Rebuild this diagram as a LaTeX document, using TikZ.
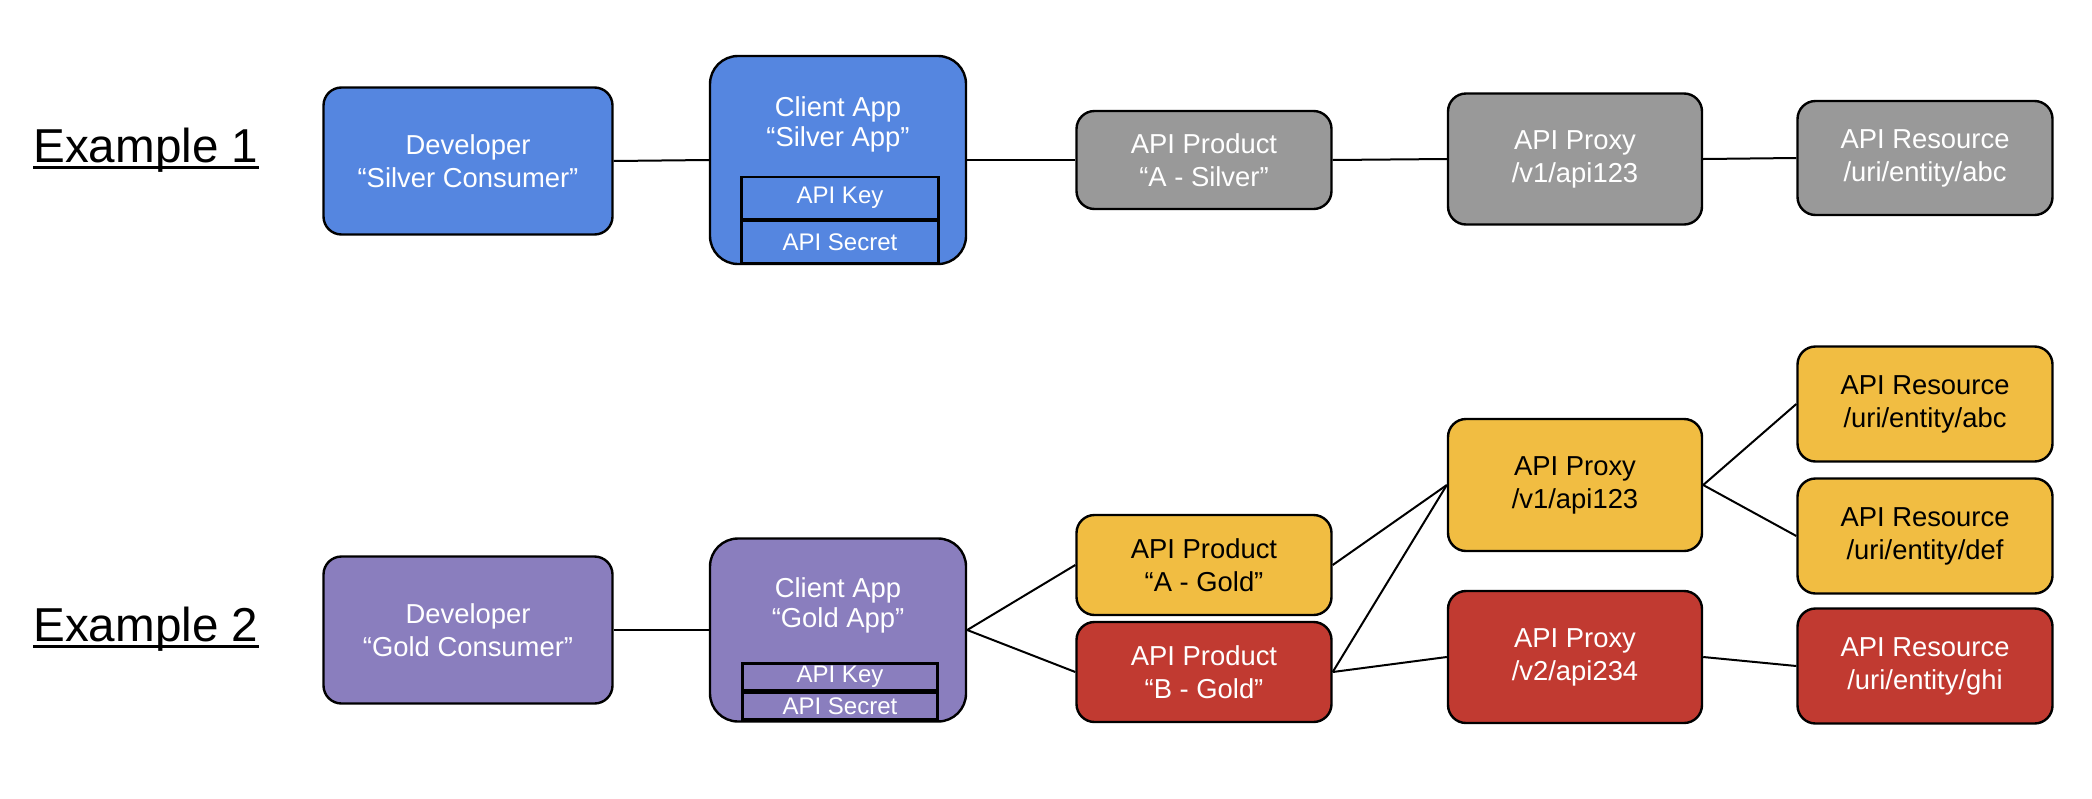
\documentclass[tikz,border=0pt]{standalone}
\usepackage{fontspec}
\setmainfont{Liberation Sans}
\definecolor{appblue}{HTML}{5586E0}
\definecolor{appgray}{HTML}{999999}
\definecolor{appgold}{HTML}{F1BD42}
\definecolor{appred}{HTML}{C13A31}
\definecolor{apppurple}{HTML}{8A7EBE}
\begin{document}
\begin{tikzpicture}[x=0.5pt,y=-0.5pt]
\tikzstyle{every node}+=[inner sep=0pt]
\tikzstyle{box}=[draw=black, line width=1.2pt, rounded corners=9pt, align=center, font=\fontsize{13.7}{16.5}\selectfont]
\tikzstyle{appbox}=[box, rounded corners=14pt]
\tikzstyle{keybox}=[draw=black, line width=1.1pt, text=white, font=\fontsize{12}{14}\selectfont]
\tikzstyle{title}=[anchor=base west, font=\fontsize{23.8}{28}\selectfont]
\tikzstyle{wire}=[black, line width=1pt]
\useasboundingbox (0,0) rectangle (2092,798);
% example 1
\node[title] (exone) at (33,162) {Example 1};
\draw[line width=1.3pt] ([yshift=-2.6pt]exone.base west) -- ([yshift=-2.6pt]exone.base east);
\node[box, fill=appblue, text=white, minimum width=144.5pt, minimum height=73.5pt] (silverdev) at (468,161) {Developer\\“Silver Consumer”};
\node[appbox, fill=appblue, minimum width=128pt, minimum height=104pt] (silverapp) at (838,160) {};
\node[align=center, text=white, font=\fontsize{13.7}{15}\selectfont] (silverapptitle) at (838,124) {Client App\\“Silver App”};
\node[keybox, fill=appblue, minimum width=98.5pt, minimum height=21pt] (silverkey) at (840,198) {API Key};
\node[keybox, fill=appblue, minimum width=98.5pt, minimum height=21pt] (silversecret) at (840,242) {API Secret};
\node[box, fill=appgray, text=white, minimum width=127.5pt, minimum height=49pt] (silverprod) at (1204,160) {API Product\\“A - Silver”};
\node[box, fill=appgray, text=white, minimum width=127pt, minimum height=65.5pt] (silverproxy) at (1575,159) {API Proxy\\/v1/api123};
\node[box, fill=appgray, text=white, minimum width=127.5pt, minimum height=57pt] (silverres) at (1925,158) {API Resource\\/uri/entity/abc};
\draw[wire] (silverdev.east) -- (silverapp.west);
\draw[wire] (silverapp.east) -- (silverprod.west);
\draw[wire] (silverprod.east) -- (silverproxy.west);
\draw[wire] (silverproxy.east) -- (silverres.west);
% example 2
\node[title] (extwo) at (33,641) {Example 2};
\draw[line width=1.3pt] ([yshift=-2.6pt]extwo.base west) -- ([yshift=-2.6pt]extwo.base east);
\node[box, fill=apppurple, text=white, minimum width=144.5pt, minimum height=73.5pt] (golddev) at (468,630) {Developer\\“Gold Consumer”};
\node[appbox, fill=apppurple, minimum width=128pt, minimum height=91.5pt] (goldapp) at (838,630) {};
\node[align=center, text=white, font=\fontsize{13.7}{15}\selectfont] (goldapptitle) at (838,605) {Client App\\“Gold App”};
\node[keybox, fill=apppurple, minimum width=97.5pt, minimum height=13.5pt] (goldkey) at (840,677) {API Key};
\node[keybox, fill=apppurple, minimum width=97.5pt, minimum height=13.5pt] (goldsecret) at (840,706) {API Secret};
\node[box, fill=appgold, minimum width=127.5pt, minimum height=50pt] (prodA) at (1204,565) {API Product\\“A - Gold”};
\node[box, fill=appred, text=white, minimum width=127.5pt, minimum height=50pt] (prodB) at (1204,672) {API Product\\“B - Gold”};
\node[box, fill=appgold, minimum width=127pt, minimum height=66pt] (proxyone) at (1575,485) {API Proxy\\/v1/api123};
\node[box, fill=appred, text=white, minimum width=127pt, minimum height=66pt] (proxytwo) at (1575,657) {API Proxy\\/v2/api234};
\node[box, fill=appgold, minimum width=127.5pt, minimum height=57.5pt] (resabc) at (1925,404) {API Resource\\/uri/entity/abc};
\node[box, fill=appgold, minimum width=127.5pt, minimum height=57.5pt] (resdef) at (1925,536) {API Resource\\/uri/entity/def};
\node[box, fill=appred, text=white, minimum width=127.5pt, minimum height=57.5pt] (resghi) at (1925,666) {API Resource\\/uri/entity/ghi};
\draw[wire] (golddev.east) -- (goldapp.west);
\draw[wire] (goldapp.east) -- (prodA.west);
\draw[wire] (goldapp.east) -- (prodB.west);
\draw[wire] (prodA.east) -- (proxyone.west);
\draw[wire] (prodB.east) -- (proxyone.west);
\draw[wire] (prodB.east) -- (proxytwo.west);
\draw[wire] (proxyone.east) -- (resabc.west);
\draw[wire] (proxyone.east) -- (resdef.west);
\draw[wire] (proxytwo.east) -- (resghi.west);
\end{tikzpicture}
\end{document}
